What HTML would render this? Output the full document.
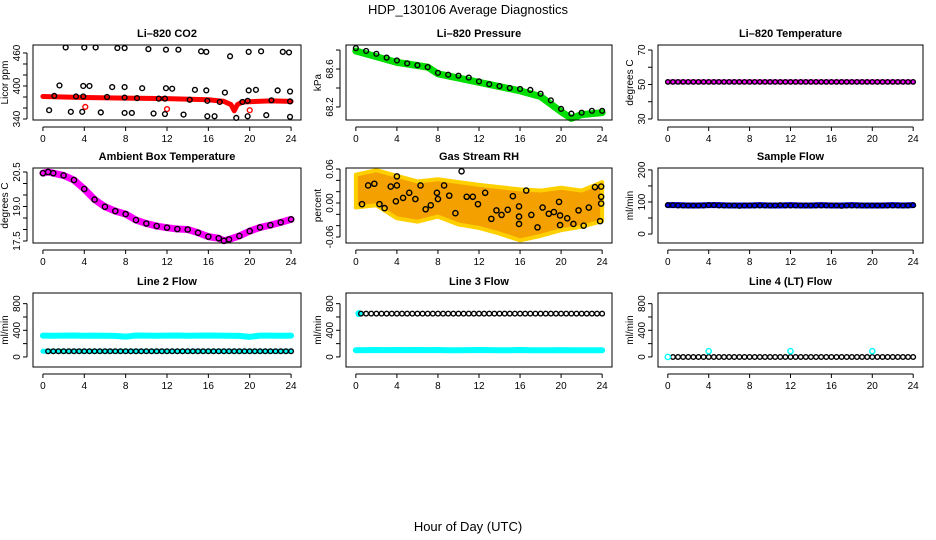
<!DOCTYPE html>
<html><head><meta charset="utf-8">
<style>
html,body{margin:0;padding:0;background:#fff;}
svg{display:block;font-family:"Liberation Sans",sans-serif;}
</style></head>
<body>
<svg id="chart" width="936" height="540" viewBox="0 0 936 540">
<text x="468" y="14" text-anchor="middle" font-size="13">HDP_130106  Average Diagnostics</text>
<text x="468" y="531" text-anchor="middle" font-size="13">Hour of Day (UTC)</text>
</svg>
<script>
// shared half-hour grid
const hoursHalf = [0,0.5,1,1.5,2,2.5,3,3.5,4,4.5,5,5.5,6,6.5,7,7.5,8,8.5,9,9.5,10,10.5,11,11.5,12,12.5,13,13.5,14,14.5,15,15.5,16,16.5,17,17.5,18,18.5,19,19.5,20,20.5,21,21.5,22,22.5,23,23.5,24];
const hoursOne = [0,1,2,3,4,5,6,7,8,9,10,11,12,13,14,15,16,17,18,19,20,21,22,23,24];
const xTicks = [0,4,8,12,16,20,24];

// CO2
const co2BandX = [0,4,8,12,16,17.5,18.2,18.5,18.8,19.3,22,24];
const co2BandY = [381,379,378,377,375,372,366,355,366,371,373,372];
const co2PtX = [2.2,4.0,5.1,7.2,7.9,10.2,11.9,13.1,15.3,15.8,18.1,19.9,21.1,23.2,23.8, 1.6,3.9,4.5,6.7,7.9,9.6,11.9,12.5,14.7,15.8,17.6,19.9,20.6,22.7,23.9, 1.1,3.2,3.9,6.2,7.9,9.1,11.2,11.8,14.2,15.9,17.1,19.3,19.8,22.1,23.9, 0.6,2.7,3.8,5.6,7.9,8.6,10.7,11.8,13.6,15.9,16.6,18.7,19.8,21.6,23.9];
const co2PtY = [470,470,470,469,469,467,466,466,463,462,454,462,463,462,461, 401,400,400,398,398,396,396,395,393,392,388,392,393,392,390, 382,381,381,380,379,378,377,377,375,373,371,371,373,374,372, 356,353,353,352,351,351,350,349,348,345,345,342,345,347,344];
const co2RedX = [4.1,12,20];
const co2RedY = [362,358,356];

// Pressure
const presBandX = [0,4,7,8,12,16,18,20,21,22,24];
const presBandY = [68.79,68.67,68.62,68.55,68.46,68.37,68.31,68.15,68.08,68.12,68.14];
const presPtY = [68.82,68.79,68.76,68.72,68.69,68.66,68.64,68.62,68.56,68.54,68.53,68.51,68.47,68.44,68.42,68.40,68.39,68.38,68.34,68.27,68.18,68.13,68.14,68.16,68.16];

// Li-820 temperature
const tempBandY = [51.5,51.5,51.5,51.5,51.5,51.5,51.5,51.5,51.5,51.5,51.5,51.5,51.5,51.5,51.5,51.5,51.5,51.5,51.5,51.5,51.5,51.5,51.5,51.5,51.5];
const tempPtY = [51.5,51.5,51.5,51.5,51.5,51.5,51.5,51.5,51.5,51.5,51.5,51.5,51.5,51.5,51.5,51.5,51.5,51.5,51.5,51.5,51.5,51.5,51.5,51.5,51.5,51.5,51.5,51.5,51.5,51.5,51.5,51.5,51.5,51.5,51.5,51.5,51.5,51.5,51.5,51.5,51.5,51.5,51.5,51.5,51.5,51.5,51.5,51.5,51.5];

// Ambient box temperature
const ambX = [0,0.5,1,2,3,4,5,6,7,8,9,10,11,12,13,14,15,16,17,17.5,18,19,20,21,22,23,24];
const ambY = [20.45,20.5,20.45,20.35,20.15,19.76,19.3,18.99,18.8,18.67,18.41,18.26,18.15,18.08,18.02,18.0,17.86,17.69,17.62,17.51,17.57,17.72,17.93,18.09,18.19,18.31,18.44];

// Gas stream RH
const rhBandX = [0,2,4,6,8,10,12,14,16,18,20,22,24];
const rhUpper = [0.05,0.058,0.048,0.038,0.042,0.037,0.032,0.028,0.024,0.022,0.027,0.022,0.037];
const rhLower = [-0.008,-0.004,-0.027,-0.033,-0.024,-0.038,-0.044,-0.054,-0.066,-0.058,-0.048,-0.042,-0.032];
const rhPtX = [0.6,1.2,1.8,2.3,2.8,3.4,4.0,4.0,3.9,4.6,5.2,5.8,6.3,6.8,7.3,7.9,8.0,8.6,9.1,9.7,10.3,10.8,11.4,11.9,12.6,13.2,13.7,14.2,14.8,15.3,15.9,15.9,15.9,16.6,17.1,17.7,18.2,18.8,19.3,19.8,19.9,19.9,20.6,21.2,21.7,22.2,22.7,23.3,23.9,23.9,23.9,23.8];
const rhPtY = [-0.002,0.031,0.034,-0.002,-0.009,0.029,0.047,0.031,0.003,0.009,0.018,0.007,0.031,-0.011,-0.004,0.018,0.007,0.031,0.013,-0.018,0.056,0.011,0.011,-0.002,0.018,-0.028,-0.013,-0.021,-0.012,0.012,-0.006,-0.024,-0.037,0.022,-0.021,-0.043,-0.008,-0.019,-0.016,0.002,-0.022,-0.039,-0.027,-0.037,-0.013,-0.04,-0.008,0.028,0.029,0.011,-0.001,-0.032];

// Sample flow
const sampBandY = [90,90,89,89,90,90,89,89,89,90,89,89,90,89,89,90,89,89,90,89,89,89,90,89,90];
const sampPtY = [90,90,89,89,89,89,89,89,90,90,89,89,89,89,88,89,89,89,89,89,89,89,90,89,89,89,89,89,89,89,89,89,89,89,88,89,89,89,89,89,89,89,89,89,89,89,89,89,90];

// Line 2 flow
const l2UpperY = [320,318,320,322,318,320,318,316,305,322,320,318,320,322,318,320,322,320,318,316,302,320,320,318,320];
const l2LowerY = [85,85,85,85,85,85,85,85,85,85,85,85,85,85,85,85,85,85,85,85,85,85,85,85,85];
const l2PtY = [85,85,85,85,85,85,85,85,85,85,85,85,85,85,85,85,85,85,85,85,85,85,85,85,85,85,85,85,85,85,85,85,85,85,85,85,85,85,85,85,85,85,85,85,85,85,85,85,85];

// Line 3 flow
const l3CyanX = [0.3];
const l3CyanY = [650];
const l3LowerY = [100,102,104,102,104,102,104,102,104,100,100,102,104,102,100,100,104,100,100,100,102,100,100,100,100];
const l3PtY = [650,650,650,650,650,650,650,650,650,650,650,650,650,650,650,650,650,650,650,650,650,650,650,650,650,650,650,650,650,650,650,650,650,650,650,650,650,650,650,650,650,650,650,650,650,650,650,650,650];

// Line 4 flow
const l4CyanX = [0,4,12,20];
const l4CyanY = [0,87,87,87];
const l4PtY = [0,0,0,0,0,0,0,0,0,0,0,0,0,0,0,0,0,0,0,0,0,0,0,0,0,0,0,0,0,0,0,0,0,0,0,0,0,0,0,0,0,0,0,0,0,0,0,0,0];

const NS = "http://www.w3.org/2000/svg";
const svg = document.getElementById('chart');
function mk(tag, attrs, parent){
  const e = document.createElementNS(NS, tag);
  for (const k in attrs) e.setAttribute(k, attrs[k]);
  (parent||svg).appendChild(e);
  return e;
}
const cols = [[33,301],[346,612],[658,923]];
const rows = [[45,120],[168,243],[293,367]];

function panel(c, r, title, ylab, ymin, ymax, ticks, labels, name){
  const [L,R] = cols[c], [T,B] = rows[r];
  const g = mk('g', {});
  
  
  const xs = v => L + (v + 0.96) / 25.92 * (R - L);
  const ys = v => B - (v - ymin) / (ymax - ymin) * (B - T);
  const t = mk('text', {x:(L+R)/2, y:T-8, 'text-anchor':'middle', 'font-size':11, 'font-weight':'bold'}, g);
  t.textContent = title;
  
  
  const xa = mk('g', {}, g);
  
  
  mk('line', {x1:xs(0), x2:xs(24), y1:B+7, y2:B+7, stroke:'#000'}, xa);
  xTicks.forEach(v => {
    mk('line', {x1:xs(v), x2:xs(v), y1:B+7, y2:B+11, stroke:'#000'}, xa);
    const tl = mk('text', {x:xs(v), y:B+22, 'text-anchor':'middle', 'font-size':10}, xa);
    tl.textContent = v;
  });
  const ya = mk('g', {}, g);
  
  
  mk('line', {x1:L-6, x2:L-6, y1:ys(ticks[0]), y2:ys(ticks[ticks.length-1]), stroke:'#000'}, ya);
  ticks.forEach(v => mk('line', {x1:L-10, x2:L-6, y1:ys(v), y2:ys(v), stroke:'#000'}, ya));
  labels.forEach(v => {
    const tl = mk('text', {x:0, y:0, 'text-anchor':'middle', 'font-size':10, transform:`translate(${L-13},${ys(parseFloat(v))}) rotate(-90)`}, ya);
    tl.textContent = v;
  });
  const yl = mk('text', {x:0, y:0, 'text-anchor':'middle', 'font-size':10, transform:`translate(${L-25},${(T+B)/2}) rotate(-90)`}, g);
  yl.textContent = ylab;
  
  
  const plot = mk('g', {}, g);
  mk('rect', {x:L, y:T, width:R-L, height:B-T, fill:'none', stroke:'#000'}, g);
  return {xs, ys, plot};
}
function band(p, X, Y, color, w, name){
  const pl = mk('polyline', {points: X.map((x,i)=>p.xs(x)+','+p.ys(Y[i])).join(' '), fill:'none', stroke:color, 'stroke-width':w, 'stroke-linejoin':'round', 'stroke-linecap':'round'}, p.plot);
  
  
}
function pts(p, X, Y, color, r, name, fill){
  X.forEach((x,i)=>{
    const c = mk('circle', {cx:p.xs(x), cy:p.ys(Y[i]), r:r, fill:fill||'none', stroke:color, 'stroke-width':1.4}, p.plot);
    
    
  });
}

let p = panel(0,0,'Li\u2013820 CO2','Licor ppm',338.2,474.5,[340,360,380,400,420,440,460],['340','400','460'],'co2');
band(p, co2BandX, co2BandY, '#f00', 5, 'co2-band');
pts(p, co2RedX, co2RedY, '#f00', 2.4, 'co2-red-point');
pts(p, co2PtX, co2PtY, '#000', 2.4, 'co2-point');

p = panel(1,0,'Li\u2013820 Pressure','kPa',68.063,68.853,[68.2,68.4,68.6,68.8],['68.2','68.6'],'pressure');
band(p, presBandX, presBandY, '#0d0', 7, 'pressure-band');
pts(p, hoursOne, presPtY, '#000', 2.4, 'pressure-point');

p = panel(2,0,'Li\u2013820 Temperature','degrees C',29.4,72.9,[30,40,50,60,70],['30','50','70'],'li820-temp');
band(p, hoursOne, tempBandY, '#f0f', 5, 'li820-temp-band');
pts(p, hoursHalf, tempPtY, '#000', 2.2, 'li820-temp-point');

p = panel(0,1,'Ambient Box Temperature','degrees C',17.413,20.674,[17.5,18,18.5,19,19.5,20,20.5],['17.5','19.0','20.5'],'ambient-temp');
band(p, ambX, ambY, '#f0f', 7, 'ambient-band');
pts(p, ambX, ambY, '#000', 2.6, 'ambient-point');

p = panel(1,1,'Gas Stream RH','percent',-0.0706,0.0618,[-0.06,-0.04,-0.02,0,0.02,0.04,0.06],['-0.06','0.00','0.06'],'gas-rh');
const poly = rhBandX.map((x,i)=>p.xs(x)+','+p.ys(rhUpper[i])).concat(rhBandX.slice().reverse().map((x,i)=>p.xs(x)+','+p.ys(rhLower[rhBandX.length-1-i])));
const rp = mk('polygon', {points:poly.join(' '), fill:'#f3a000', stroke:'#ffd000', 'stroke-width':4, 'stroke-linejoin':'round'}, p.plot);


pts(p, rhPtX, rhPtY, '#000', 2.6, 'rh-point');

p = panel(2,1,'Sample Flow','ml/min',-28,206,[0,50,100,150,200],['0','100','200'],'sample-flow');
band(p, hoursOne, sampBandY, '#00f', 6, 'sample-band');
pts(p, hoursHalf, sampPtY, '#000', 2.3, 'sample-point');

p = panel(0,2,'Line 2 Flow','ml/min',-151,960,[0,200,400,600,800],['0','400','800'],'line2-flow');
band(p, hoursOne, l2UpperY, '#0ff', 6, 'line2-upper-band');
band(p, hoursOne, l2LowerY, '#0ff', 5, 'line2-lower-band');
pts(p, hoursHalf.slice(1), l2PtY.slice(1), '#000', 2.3, 'line2-point');

p = panel(1,2,'Line 3 Flow','ml/min',-151,960,[0,200,400,600,800],['0','400','800'],'line3-flow');
band(p, hoursOne, l3LowerY, '#0ff', 6, 'line3-lower-band');
pts(p, l3CyanX, l3CyanY, '#0ff', 2.8, 'line3-cyan-point', '#0ff');
pts(p, hoursHalf.slice(1), l3PtY.slice(1), '#000', 2.3, 'line3-point');

p = panel(2,2,'Line 4 (LT) Flow','ml/min',-151,960,[0,200,400,600,800],['0','400','800'],'line4-flow');
pts(p, hoursHalf.slice(1), l4PtY.slice(1), '#000', 2.3, 'line4-point');
pts(p, l4CyanX, l4CyanY, '#0ff', 2.6, 'line4-cyan-point');
</script>
</body></html>
